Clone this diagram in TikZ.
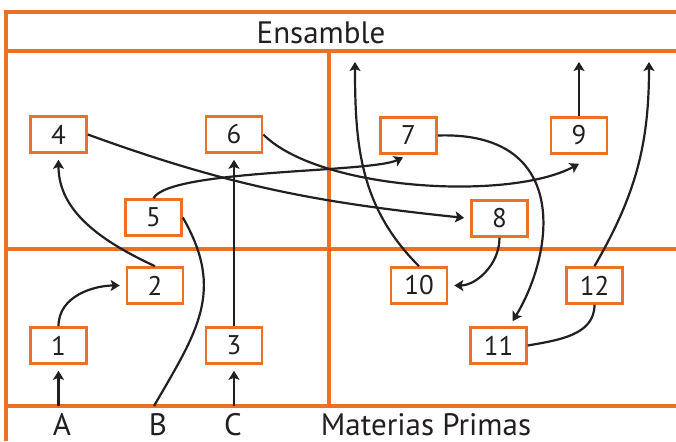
\documentclass[tikz,border=0pt]{standalone}
\usepackage{fontspec}
\setmainfont{PT Sans}
\usetikzlibrary{positioning,arrows.meta}
\definecolor{naranja}{RGB}{234,113,37}
\definecolor{tinta}{RGB}{35,31,32}
\tikzset{
	paso/.style={draw=naranja, line width=1.3pt, minimum width=28pt, minimum height=18pt,
		inner sep=0pt, text=tinta, font=\fontsize{13.5}{15}\selectfont},
	marco/.style={draw=naranja, line width=2pt},
	flecha/.style={draw=tinta, line width=1.1pt, -{Stealth[length=4.5pt,width=5.5pt,inset=1pt]}, shorten >=3pt},
	linea/.style={draw=tinta, line width=1.1pt},
	rotulo/.style={anchor=base, inner sep=0pt, text=tinta, font=\fontsize{15.5}{17}\selectfont}
}

\begin{document}
\begin{tikzpicture}[x=0.5pt,y=0.5pt]
	\useasboundingbox (0,0) rectangle (676,441);
	% marco
	\draw[marco] (676,429) -| (6,0);
	\draw[marco] (6,390) -- (676,390);
	\draw[marco] (6,192.5) -- (676,192.5);
	\draw[marco] (6,35) -- (676,35);
	\draw[marco] (329,390) -- (329,35);
	% rotulos
	\node[rotulo] (Ens) at (321,398) {Ensamble};
	\node[rotulo] (MP) at (426,6) {Materias Primas};
	\node[rotulo] (A) at (62,6) {A};
	\node[rotulo] (B) at (158,6) {B};
	\node[rotulo] (C) at (233,6) {C};
	\coordinate (inA) at (58.5,35);
	\coordinate (inB) at (154,35);
	\coordinate (inC) at (234,35);
	\coordinate (outA) at (355,379);
	\coordinate (outB) at (579,379);
	\coordinate (outC) at (649,379);
	% pasos
	\node[paso] (P1) at (58.5,95.5) {1};
	\node[paso] (P2) at (155,155.5) {2};
	\node[paso] (P3) at (234,95.5) {3};
	\node[paso] (P4) at (58.5,306.5) {4};
	\node[paso] (P5) at (153.5,223.5) {5};
	\node[paso] (P6) at (234,306.5) {6};
	\node[paso] (P7) at (408.5,305.5) {7};
	\node[paso] (P8) at (499.5,222.5) {8};
	\node[paso] (P9) at (579,305.5) {9};
	\node[paso] (P10) at (419,155.5) {10};
	\node[paso] (P11) at (498.5,95.5) {11};
	\node[paso] (P12) at (594.5,155.5) {12};
	% flujos
	\draw[flecha] (inA) -- (P1.south);
	\draw[flecha] (inC) -- (P3.south);
	\draw[linea] (P5.east) to[out=-60,in=60,looseness=1.15] (inB);
	\draw[flecha] (P1.north) to[out=90,in=180] (P2.west);
	\draw[flecha] (P2.north) to[out=155,in=-90] (P4.south);
	\draw[flecha] (P3.north) -- (P6.south);
	\draw[flecha] (P4.east) to[out=-20,in=174] (P8.west);
	\draw[flecha] (P5.north) .. controls (170,272) and (370,268) .. (P7.south);
	\draw[flecha, shorten >=0pt] (P6.east) .. controls (320,250) and (510,240) .. ([yshift=-4.5pt]P9.south);
	\draw[flecha] (P7.east) .. controls (570,310) and (555,190) .. (P11.60);
	\draw[flecha] (P8.south) to[out=-90,in=0] (P10.east);
	\draw[linea] (P12.south) to[out=-90,in=10] (P11.east);
	\draw[flecha, shorten >=0pt] (P10.north) to[out=135,in=-90] (outA);
	\draw[flecha, shorten >=0pt] (P9.north) -- (outB);
	\draw[flecha, shorten >=0pt] (P12.north) to[out=60,in=-90] (outC);
\end{tikzpicture}
\end{document}
